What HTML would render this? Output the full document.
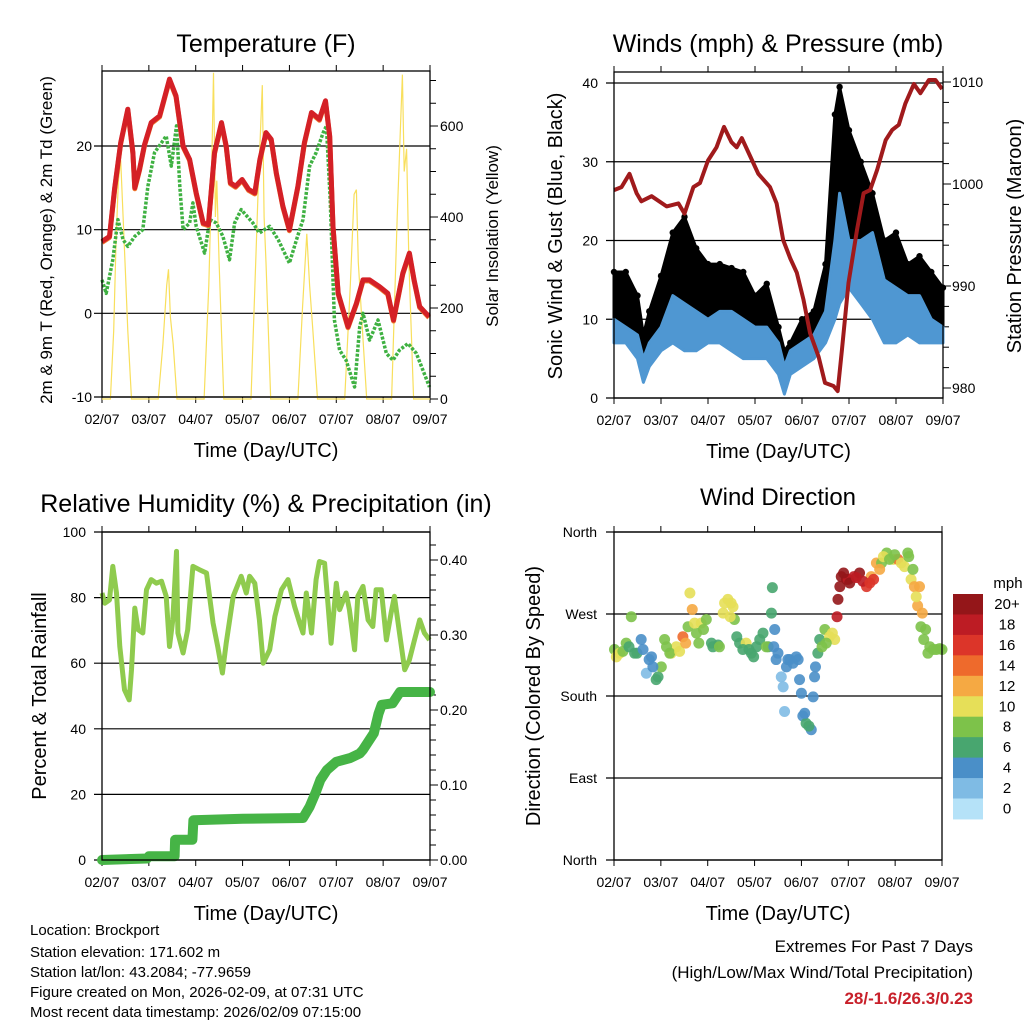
<!DOCTYPE html>
<html><head><meta charset="utf-8"><title>Brockport station meteogram</title>
<style>
html,body{margin:0;padding:0;background:#fff;}
svg{display:block;font-family:"Liberation Sans",sans-serif;}
</style></head>
<body>
<svg id="fig" width="1024" height="1024" viewBox="0 0 1024 1024" xmlns="http://www.w3.org/2000/svg"></svg>
<script>
// ---------- Temperature panel data ----------
const tempDays = [0,0.16,0.27,0.4,0.55,0.66,0.7,0.8,0.91,1.05,1.23,1.44,1.58,1.73,1.87,2.01,2.16,2.27,2.4,2.55,2.65,2.74,2.85,2.99,3.13,3.26,3.37,3.5,3.61,3.72,3.86,4.0,4.18,4.32,4.47,4.64,4.77,4.86,4.93,5.04,5.25,5.43,5.57,5.71,5.92,6.1,6.22,6.42,6.56,6.66,6.78,6.98];
const tempF = [8.6,9.2,15,20.4,24.4,19.2,15,17.2,20.2,22.8,23.6,28,26,20,18.4,14.4,10.8,10.6,19.2,22.8,20,15.6,15.2,16,14.8,14.4,18.4,21.6,20.8,16.8,12.8,10,15.2,20.4,24,23.2,25.4,21.2,10.4,2.4,-1.6,1.2,4,4,3.2,2.4,-0.8,4.8,7.2,4,0.8,-0.4];
const dewDays = [0,0.09,0.23,0.34,0.45,0.55,0.7,0.87,0.98,1.12,1.37,1.48,1.59,1.66,1.73,1.87,1.94,2.01,2.19,2.3,2.44,2.58,2.72,2.83,2.97,3.22,3.36,3.58,3.76,4.0,4.15,4.29,4.43,4.57,4.72,4.79,4.87,4.96,5.07,5.21,5.39,5.5,5.57,5.71,5.89,6.07,6.21,6.35,6.53,6.71,6.99];
const dewF = [4,2.4,6.4,11.2,8.8,8,9.2,10,15.2,19.2,21.2,17.6,22.4,15.2,10,10.8,13.2,10.4,7.2,11.2,10.8,9.2,6.4,10.8,12.4,10.8,9.6,10.4,8.8,6,8.8,11.2,17.6,19.2,21.6,22.4,13.6,-0.8,-4.4,-5.6,-8.8,-1.6,0,-3.2,-0.8,-4.8,-5.6,-4.4,-3.6,-4.8,-8.8];
const solarDays = [0,0.18,0.25,0.3,0.35,0.4,0.45,0.5,0.55,0.63,1.2,1.3,1.38,1.42,1.46,1.52,1.6,2.18,2.28,2.33,2.38,2.42,2.45,2.5,2.6,3.18,3.28,3.33,3.42,3.46,3.5,3.6,4.18,4.28,4.37,4.43,4.5,4.6,5.18,5.3,5.38,5.43,5.47,5.65,6.18,6.3,6.37,6.41,6.45,6.5,6.55,6.65,7];
const solarWm2 = [0,0,150,350,480,525,400,280,150,0,0,120,250,285,180,120,0,0,250,450,717,400,480,300,0,0,300,450,690,400,300,0,0,200,363,250,150,0,0,250,450,460,300,0,0,400,600,713,500,550,300,0,0];
const tempTicks = [-10,0,10,20];
const solarTicks = [0,200,400,600];
const dayLabels = ["02/07","03/07","04/07","05/07","06/07","07/07","08/07","09/07"];
// ---------- Winds panel data ----------
const windDays = [0,0.25,0.5,0.625,0.75,1,1.25,1.5,1.75,2,2.25,2.5,2.75,3,3.25,3.5,3.625,3.75,4,4.25,4.5,4.7,4.8,5,5.25,5.5,5.75,6,6.25,6.5,6.75,7];
const windLow = [7,7,5,2,4,6,7,6,6,7,7,6,5,5,5,3,0.5,3,4,5,7,10,12,14,12,10,7,7,8,7,7,7];
const windHigh = [10,9,8,5,7,9,13,12,11,10,11,11,10,9,9,7,4,6,7,8,11,20,26,20,20,21,15,14,13,13,10,9];
const gustHigh = [16,16,13,8,11,15.5,21,23,19,17,17,16.5,16,13,14.5,9,6,7,10,11,17,36,39.5,34,30,26,20,21,17,18,16,14];
const presDays = [0,0.16,0.33,0.48,0.58,0.8,1.12,1.37,1.5,1.69,1.83,2.0,2.18,2.34,2.5,2.61,2.72,2.9,3.07,3.32,3.46,3.6,3.75,3.89,4.03,4.17,4.35,4.49,4.67,4.76,4.85,4.99,5.17,5.31,5.45,5.6,5.78,5.92,6.06,6.2,6.38,6.52,6.7,6.84,6.98];
const presMb = [999.4,999.7,1001.0,999.1,998.3,998.8,997.8,998.1,997.1,999.7,1000.1,1002.3,1003.6,1005.6,1004.1,1003.6,1004.5,1002.7,1001.0,999.7,998.1,994.5,992.7,991.3,988.7,985.4,983.1,980.5,980.2,979.7,983.8,990.3,995.5,999.1,999.4,1001.4,1004.3,1005.3,1005.8,1007.9,1009.8,1008.9,1010.2,1010.2,1009.3];
const windTicks = [0,10,20,30,40];
const presTicks = [980,990,1000,1010];
// ---------- RH / precipitation panel data ----------
const rhDays = [0,0.06,0.16,0.23,0.31,0.38,0.48,0.58,0.63,0.7,0.77,0.87,0.95,1.05,1.16,1.27,1.37,1.44,1.51,1.59,1.62,1.73,1.83,1.94,2.08,2.23,2.37,2.47,2.57,2.65,2.8,2.97,3.08,3.15,3.26,3.36,3.44,3.58,3.69,3.83,3.97,4.11,4.22,4.29,4.36,4.47,4.57,4.64,4.75,4.82,4.89,5.0,5.07,5.21,5.28,5.39,5.46,5.57,5.68,5.78,5.85,5.96,6.07,6.17,6.24,6.35,6.46,6.56,6.67,6.78,6.88,6.99];
const rhPct = [81.4,78.3,79.3,89.5,81.4,65.1,51.9,48.8,58,76.8,70.2,69.2,82.4,85.5,84.4,85,80.4,65.1,73.2,94.1,69.2,63.1,70.2,89.5,88.5,87.5,72.2,65.1,57,66.1,80.4,86.5,81.4,86.5,84.4,73.2,60,64.1,74.3,82.4,85.5,77.3,72.2,69.2,81.4,69.2,85.5,91,90.5,78.3,66.1,84.4,76.3,81.4,76.3,64.1,80.4,83.4,73.2,71.2,82.4,82.4,67.1,75.3,80.4,69.2,58,61,67.1,73.2,69.2,67.1];
const precipDays = [0,0.96,1.0,1.55,1.56,1.93,1.95,3.0,4.29,4.43,4.56,4.66,4.8,5.0,5.3,5.5,5.57,5.8,5.9,5.97,6.2,6.36,7.0];
const precipIn = [0,0.002,0.005,0.005,0.027,0.027,0.053,0.055,0.056,0.071,0.09,0.107,0.12,0.131,0.136,0.142,0.147,0.169,0.195,0.207,0.209,0.224,0.224];
const rhTicks = [0,20,40,60,80,100];
const precipTicks = [0,0.1,0.2,0.3,0.4];
const precipTickLabels = ["0.00","0.10","0.20","0.30","0.40"];
// ---------- Wind direction panel data ----------
const dirDays = [0.01,0.12,0.26,0.37,0.44,0.58,0.69,0.8,0.94,1.01,1.08,1.22,1.33,1.47,1.58,1.62,1.67,1.76,1.86,1.97,2.08,2.22,2.33,2.43,2.5,2.57,2.68,2.82,2.93,3.04,3.18,3.29,3.36,3.38,3.43,3.5,3.57,3.64,3.71,3.82,3.93,3.96,4.03,4.1,4.21,4.25,4.3,4.39,4.5,4.6,4.71,4.76,4.78,4.85,4.96,5.0,5.12,5.24,5.39,5.49,5.6,5.71,5.82,5.96,6.06,6.13,6.27,6.34,6.41,6.48,6.55,6.61,6.7,6.81,6.95,
  0.05,0.19,0.32,0.49,0.62,0.75,0.83,0.9,1.12,1.19,1.4,1.53,1.72,1.81,1.91,2.11,2.25,2.36,2.48,2.54,2.62,2.75,2.88,2.98,3.11,3.25,3.41,3.46,3.61,3.68,3.75,3.89,4.0,4.07,4.16,4.28,4.35,4.44,4.53,4.66,4.82,4.9,5.03,5.17,5.31,5.46,5.54,5.67,5.75,5.88,5.99,6.2,6.29,6.38,6.45,6.52,6.58,6.65,6.74,6.88,7.0];
const dirDeg = [231,227,238,267,227,242,205,223,201,212,242,227,234,245,256,293,275,249,260,264,238,236,271,286,282,264,238,238,227,234,249,234,271,299,253,227,201,163,220,216,220,198,158,150,143,179,212,242,253,245,242,267,286,311,308,308,311,315,300,311,326,326,337,330,330,326,337,308,300,279,256,242,227,231,232,
  223,229,234,227,231,220,212,198,234,227,229,238,260,238,253,234,234,282,267,278,245,231,231,223,242,234,234,220,190,212,220,223,183,161,147,201,227,234,238,249,300,315,304,310,306,304,308,319,333,330,335,322,333,319,289,300,271,253,234,231,231];
const dirSpeed = [8,10,8,8,6,4,2,4,6,8,8,10,10,14,8,10,12,8,10,8,6,6,10,10,10,8,6,10,6,6,6,6,6,6,4,4,2,2,4,4,4,4,4,6,4,4,4,6,8,10,10,18,20,20,20,18,18,20,16,12,12,8,8,10,14,10,8,10,12,12,8,8,8,8,8,
  10,8,6,6,4,4,4,6,8,8,10,12,10,8,8,6,8,10,10,10,6,6,6,6,6,8,4,4,2,4,4,4,4,4,6,4,6,8,8,10,20,20,20,18,18,16,16,12,10,8,8,10,8,8,10,12,12,8,8,8,8];
const dirTicks = [0,90,180,270,360];
const dirLabels = ["North","East","South","West","North"];
const speedBins = [0,2,4,6,8,10,12,14,16,18,20];
const speedBinLabels = ["0","2","4","6","8","10","12","14","16","18","20+"];
const speedColors = ["#b5e2f8","#7fbbe4","#4a8fc8","#48a66f","#7dc24a","#e6df58","#f5a943","#ee6a2c","#dc3529","#bd1c24","#941619"];

const NS = "http://www.w3.org/2000/svg";
const svg = document.getElementById("fig");
function mk(tag, attrs, parent){
  const e = document.createElementNS(NS, tag);
  for (const k in attrs) e.setAttribute(k, attrs[k]);
  (parent || svg).appendChild(e);
  return e;
}
function txt(str, x, y, size, anchor, extra){
  const t = mk("text", Object.assign({x:x, y:y, "font-size":size, "text-anchor":anchor||"middle", fill:"#000"}, extra||{}));
  t.textContent = str;
  return t;
}
function linScale(d0,d1,r0,r1){ return v => r0 + (v-d0)*(r1-r0)/(d1-d0); }
function pathFrom(xs, ys, fx, fy){
  let s = "";
  for (let i=0;i<xs.length;i++) s += (i?"L":"M") + fx(xs[i]).toFixed(1) + "," + fy(ys[i]).toFixed(1);
  return s;
}

function frame(px0, py0, px1, py1, prefix, gridYs){
  const g = mk("g", {});
  
  
  gridYs.forEach(y => {
    const l = mk("line", {x1:px0-8, x2:px1, y1:y, y2:y, stroke:"#000", "stroke-width":1.2}, g);
    
    
  });
  const xs = linScale(0,7,px0,px1);
  dayLabels.forEach((lab,i) => {
    const x = xs(i);
    mk("line", {x1:x,x2:x,y1:py1,y2:py1+6,stroke:"#000","stroke-width":1}, g);
    mk("line", {x1:x,x2:x,y1:py0,y2:py0-6,stroke:"#000","stroke-width":1}, g);
    const t = txt(lab, x, py1+27, 14, "middle");
    
    
  });
  const xt = txt("Time (Day/UTC)", (px0+px1)/2, py1+60, 20, "middle");
  
  
  return xs;
}
function border(px0, py0, px1, py1, prefix){
  const r = mk("rect", {x:px0, y:py0, width:px1-px0, height:py1-py0, fill:"none", stroke:"#000", "stroke-width":1.3});
  
  
}
function rotText(str, x, y, size, name){
  const t = txt(str, 0, 0, size, "middle", {transform:"translate("+x+","+y+") rotate(-90)"});
  
  
}
function rightMinor(px1, yTop, yBot, step){
  for (let y=yBot; y>=yTop; y-=step) mk("line",{x1:px1,x2:px1+6,y1:y,y2:y,stroke:"#000","stroke-width":1});
}

// ================= Panel 1: Temperature =================
(function(){
  const x0=102,x1=430,y0=71,y1=397;
  const yT = linScale(-10,20,397,146);
  const yS = linScale(0,600,399,126);
  const t = txt("Temperature (F)", 266, 52, 25);
  
  
  const xs = frame(x0,y0,x1,y1,"temperature", tempTicks.map(yT));
  tempTicks.forEach(v => {
    const l = txt(String(v), 92, yT(v)+5, 14, "end");
    
    
  });
  solarTicks.forEach(v => {
    mk("line",{x1:x1,x2:x1+8,y1:yS(v),y2:yS(v),stroke:"#000","stroke-width":1});
    const l = txt(String(v), 440, yS(v)+5, 14, "start");
    
    
  });
  rightMinor(x1, y0+5, 399, 22.75);
  rotText("2m & 9m T (Red, Orange) & 2m Td (Green)", 52, 240, 17, "temperature-y-axis-title");
  rotText("Solar Insolation (Yellow)", 498, 236, 17, "solar-y-axis-title");
  const sol = mk("path",{d:pathFrom(solarDays,solarWm2,xs,yS),fill:"none",stroke:"#f8df5c","stroke-width":1.2});
  
  
  const dew = mk("path",{d:pathFrom(dewDays,dewF,xs,yT),fill:"none",stroke:"#3fb142","stroke-width":3.5,"stroke-dasharray":"3 1.6","stroke-linejoin":"round"});
  
  
  const or = mk("path",{d:pathFrom(tempDays,tempF,xs,v=>yT(v)+1),fill:"none",stroke:"#f07a2e","stroke-width":5,"stroke-linejoin":"round"});
  
  
  const red = mk("path",{d:pathFrom(tempDays,tempF,xs,yT),fill:"none",stroke:"#d42026","stroke-width":5,"stroke-linejoin":"round"});
  
  
  border(x0,y0,x1,y1,"temperature");
})();

// ================= Panel 2: Winds & Pressure =================
(function(){
  const x0=614,x1=943,y0=72,y1=398;
  const yW = linScale(0,40,398,83);
  const yP = linScale(980,1010,388,82);
  const t = txt("Winds (mph) & Pressure (mb)", 778, 52, 25);
  
  
  const xs = frame(x0,y0,x1,y1,"winds", windTicks.map(yW));
  windTicks.forEach(v => {
    const l = txt(String(v), 598, yW(v)+5, 14, "end");
    
    
  });
  presTicks.forEach(v => {
    mk("line",{x1:x1,x2:x1+8,y1:yP(v),y2:yP(v),stroke:"#000","stroke-width":1});
    const l = txt(String(v), 952, yP(v)+5, 14, "start");
    
    
  });
  rightMinor(x1, y0+4, 388, 20.4);
  rotText("Sonic Wind & Gust (Blue, Black)", 562, 236, 20, "wind-y-axis-title");
  rotText("Station Pressure (Maroon)", 1021, 236, 20, "pressure-y-axis-title");
  let d = pathFrom(windDays,gustHigh,xs,yW);
  for (let i=windDays.length-1;i>=0;i--) d += "L"+xs(windDays[i]).toFixed(1)+","+yW(windHigh[i]).toFixed(1);
  const gust = mk("path",{d:d+"Z",fill:"#000",stroke:"#000","stroke-width":3,"stroke-linejoin":"round"});
  
  
  windDays.forEach((dd,i) => {
    const c = mk("circle",{cx:xs(dd),cy:yW(gustHigh[i]),r:3.2,fill:"#000"});
    
    
  });
  let b = pathFrom(windDays,windHigh,xs,yW);
  for (let i=windDays.length-1;i>=0;i--) b += "L"+xs(windDays[i]).toFixed(1)+","+yW(windLow[i]).toFixed(1);
  const blue = mk("path",{d:b+"Z",fill:"#4f97d2",stroke:"#4f97d2","stroke-width":3,"stroke-linejoin":"round"});
  
  
  const pr = mk("path",{d:pathFrom(presDays,presMb,xs,yP),fill:"none",stroke:"#a01a1c","stroke-width":4,"stroke-linejoin":"round"});
  
  
  border(x0,y0,x1,y1,"winds");
})();

// ================= Panel 3: RH & Precip =================
(function(){
  const x0=102,x1=430,y0=532,y1=860;
  const yR = linScale(0,100,860,532);
  const yPr = linScale(0,0.4,860,560);
  const t = txt("Relative Humidity (%) & Precipitation (in)", 266, 512, 25);
  
  
  const xs = frame(x0,y0,x1,y1,"humidity", rhTicks.map(yR));
  rhTicks.forEach(v => {
    const l = txt(String(v), 86, yR(v)+5, 14, "end");
    
    
  });
  precipTicks.forEach((v,i) => {
    mk("line",{x1:x1,x2:x1+8,y1:yPr(v),y2:yPr(v),stroke:"#000","stroke-width":1});
    const l = txt(precipTickLabels[i], 440, yPr(v)+5, 14, "start");
    
    
  });
  rightMinor(x1, y0+3, 860, 15);
  rotText("Percent & Total Rainfall", 46, 696, 20, "humidity-y-axis-title");
  const rh = mk("path",{d:pathFrom(rhDays,rhPct,xs,yR),fill:"none",stroke:"#8fcb4e","stroke-width":5,"stroke-linejoin":"round"});
  
  
  const pc = mk("path",{d:pathFrom(precipDays,precipIn,xs,yPr),fill:"none",stroke:"#46b446","stroke-width":10,"stroke-linejoin":"round","stroke-linecap":"round"});
  
  
  border(x0,y0,x1,y1,"humidity");
})();

// ================= Panel 4: Wind direction =================
(function(){
  const x0=614,x1=942,y0=532,y1=860;
  const yD = linScale(0,360,860,532);
  const t = txt("Wind Direction", 778, 505, 24);
  
  
  const xs = frame(x0,y0,x1,y1,"wind-direction", dirTicks.map(yD));
  dirTicks.forEach((v,i) => {
    const l = txt(dirLabels[i], 597, yD(v)+5, 14, "end");
    
    
  });
  rotText("Direction (Colored By Speed)", 540, 696, 20, "direction-y-axis-title");
  function colorFor(s){ let k=0; for (let i=0;i<speedBins.length;i++) if (s>=speedBins[i]) k=i; return speedColors[k]; }
  dirDays.forEach((dd,i) => {
    const c = mk("circle",{cx:xs(dd),cy:yD(dirDeg[i]),r:5.5,fill:colorFor(dirSpeed[i]),"fill-opacity":0.9});
    
    
  });
  border(x0,y0,x1,y1,"wind-direction");
  const cb = mk("g",{});
  
  
  const cTop=594, cH=20.45;
  for (let i=speedColors.length-1, k=0; i>=0; i--, k++){
    const r = mk("rect",{x:953,y:cTop+k*cH,width:30,height:cH+0.5,fill:speedColors[i]},cb);
    
    
    const l = txt(speedBinLabels[i], 1007, cTop+k*cH+15, 15, "middle");
    
    
  }
  const u = txt("mph", 1008, 588, 15, "middle");
  
  
})();

// ================= Footer text =================
const infoLines = ["Location: Brockport","Station elevation: 171.602 m","Station lat/lon: 43.2084; -77.9659","Figure created on Mon, 2026-02-09, at 07:31 UTC","Most recent data timestamp: 2026/02/09 07:15:00"];
const infoY = [935,957,977,997,1017];
infoLines.forEach((s,i) => {
  const t = txt(s, 30, infoY[i], 15, "start");
  
  
});
const e1 = txt("Extremes For Past 7 Days", 973, 952, 17, "end");


const e2 = txt("(High/Low/Max Wind/Total Precipitation)", 973, 978, 17, "end");


const e3 = txt("28/-1.6/26.3/0.23", 973, 1004, 17, "end", {fill:"#c8202a","font-weight":"bold"});


</script>
</body></html>
